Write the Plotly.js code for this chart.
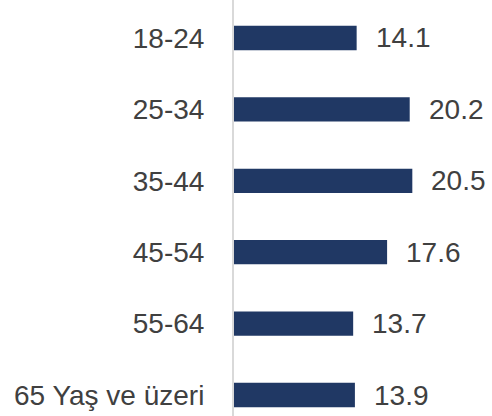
<!DOCTYPE html>
<html><head><meta charset="utf-8">
<script src="https://cdn.plot.ly/plotly-3.0.1.min.js"></script>
<style>html,body{margin:0;padding:0;background:#fff}</style>
</head><body>
<div id="chart" style="width:492px;height:416px"></div>
<script>
const categories = ["18-24", "25-34", "35-44", "45-54", "55-64", "65 Yaş ve üzeri"];
const values = [14.1, 20.2, 20.5, 17.6, 13.7, 13.9];
const valueLabels = ["14.1", "20.2", "20.5", "17.6", "13.7", "13.9"];

const textColor = "#404040";
const fontFamily = "Liberation Sans, Arial, sans-serif";

const trace = {
  type: "bar",
  orientation: "h",
  x: values,
  y: categories,
  marker: {color: "#203864"},
  width: 0.34,
  hoverinfo: "none"
};

const annotations = categories.map((c, i) => ({
  x: values[i], y: c, xref: "x", yref: "y",
  text: valueLabels[i], showarrow: false,
  xanchor: "left", yanchor: "middle", xshift: 17,
  font: {family: fontFamily, size: 28, color: textColor}
}));

const layout = {
  width: 492, height: 416,
  margin: {l: 234, r: 0, t: 0, b: 0, pad: 0},
  paper_bgcolor: "#fff", plot_bgcolor: "#fff",
  showlegend: false,
  xaxis: {range: [0, 29.66], visible: false, fixedrange: true},
  yaxis: {
    type: "category",
    range: [5.294, -0.532],
    showline: true, linecolor: "#d9d9d9", linewidth: 2,
    showgrid: false, zeroline: false,
    ticks: "", ticklabelstandoff: 22,
    tickfont: {family: fontFamily, size: 28, color: textColor}
  },
  annotations: annotations
};

Plotly.newPlot("chart", [trace], layout, {displayModeBar: false, staticPlot: true});
</script>
</body></html>
